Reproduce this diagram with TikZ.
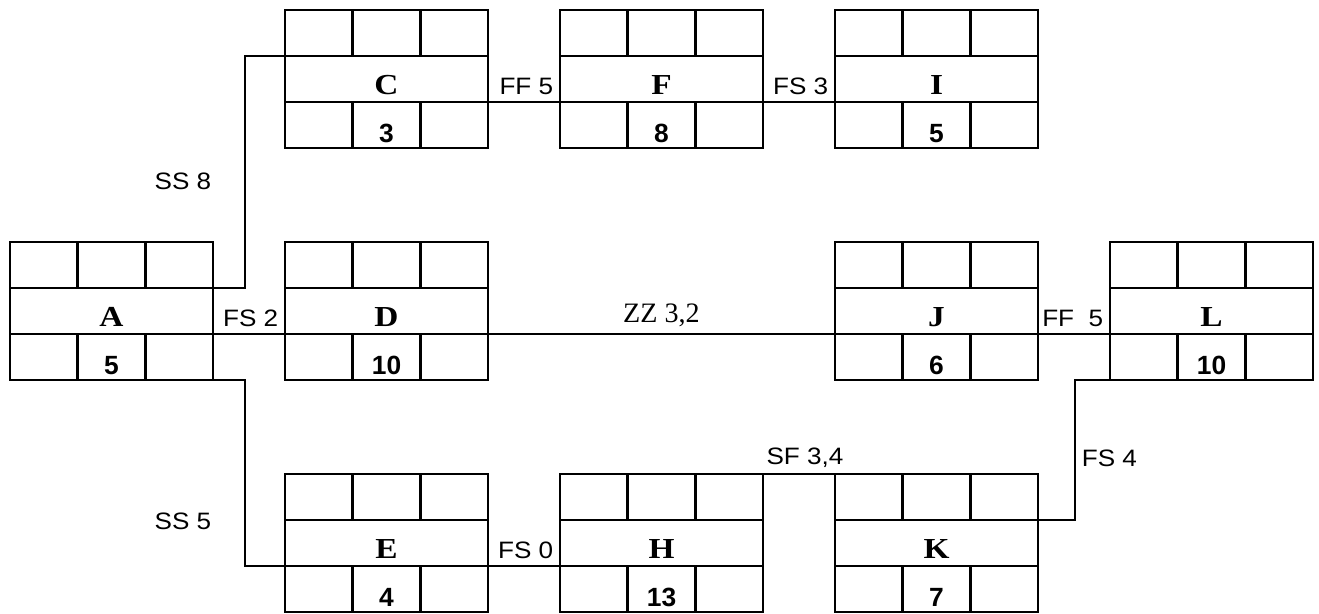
\documentclass[tikz,border=0pt]{standalone}
\usepackage{fontspec}
\setmainfont{Liberation Serif}
\setsansfont{Liberation Sans}
\newfontfamily\lblfont[FakeStretch=1.1]{Liberation Sans}
\newfontfamily\actfont[FakeStretch=1.15]{Liberation Serif}
\usetikzlibrary{positioning, calc}

\begin{document}
\begin{tikzpicture}[node distance=1.88cm and 1.44cm, act/.style={rectangle,draw,line width=1.6pt,minimum width=4.06cm,minimum height=2.76cm,inner sep=0pt,outer sep=0pt,text height=18pt,text depth=0pt,font=\actfont\fontsize{16.5}{19}\selectfont\bfseries}, dur/.style={inner sep=0pt,font=\sffamily\fontsize{15}{18}\selectfont\bfseries}, lnk/.style={line width=1.1pt}, lbl/.style={font=\lblfont\fontsize{13.5}{16}\selectfont}]
  \useasboundingbox (0,0) rectangle (26.38,-12.28);
  \node[act](A) at (2.23,-6.22){A};
  \node[act,right=of A](D){D};
  \node[act,above=of D](C){C};
  \node[act,below=of D](E){E};
  \node[act,right=of C](F){F};
  \node[act,right=of F](I){I};
  \node[act,right=of E](H){H};
  \node[act,right=of H](K){K};
  \node[act,above=of K](J){J};
  \node[act,right=of J](L){L};
  % cells of each box
  \foreach \n in {A,C,D,E,F,H,I,J,K,L}{
    \draw[line width=1.6pt]([yshift=-0.92cm]\n.north west)--([yshift=-0.92cm]\n.north east)([yshift=0.92cm]\n.south west)--([yshift=0.92cm]\n.south east);
    \foreach \i in {1,2}{\draw[line width=1.6pt]([xshift=\i*1.3533cm]\n.north west)--++(0,-0.92)([xshift=\i*1.3533cm]\n.south west)--++(0,0.92);}
  }
  \foreach \n/\d in {A/5,C/3,D/10,E/4,F/8,H/13,I/5,J/6,K/7,L/10}{\node[dur](\n-d) at ([yshift=0.29cm]\n.south){\d};}
  % links
  \draw[lnk]([yshift=-0.92cm]A.north east)--++(0.64,0)|- node[lbl,pos=0.23,left=0.54cm]{SS 8}([yshift=-0.92cm]C.north west);
  \draw[lnk]([yshift=0.92cm]A.south east)--([yshift=0.92cm]D.south west) node[lbl,pos=1,above left]{FS 2};
  \draw[lnk](A.south east)--++(0.64,0)|- node[lbl,pos=0.38,left=0.54cm]{SS 5}([yshift=0.92cm]E.south west);
  \foreach \x/\y/\t in {C/F/FF 5,F/I/FS 3,J/L/FF~~5,E/H/FS 0}{\draw[lnk]([yshift=0.92cm]\x.south east)--([yshift=0.92cm]\y.south west) node[lbl,pos=1,above left]{\t};}
  \draw[lnk]([yshift=0.92cm]D.south east)--node[above,font=\lblfont\fontsize{16}{19}\selectfont\rmfamily]{ZZ 3,2}([yshift=0.92cm]J.south west);
  \draw[lnk](H.north east)--node[lbl,above,xshift=0.12cm]{SF 3,4}(K.north west);
  \draw[lnk]([yshift=-0.92cm]K.north east)--++(0.74,0)|- node[lbl,pos=0.22,right=0cm]{FS 4}(L.south west);
\end{tikzpicture}
\end{document}
